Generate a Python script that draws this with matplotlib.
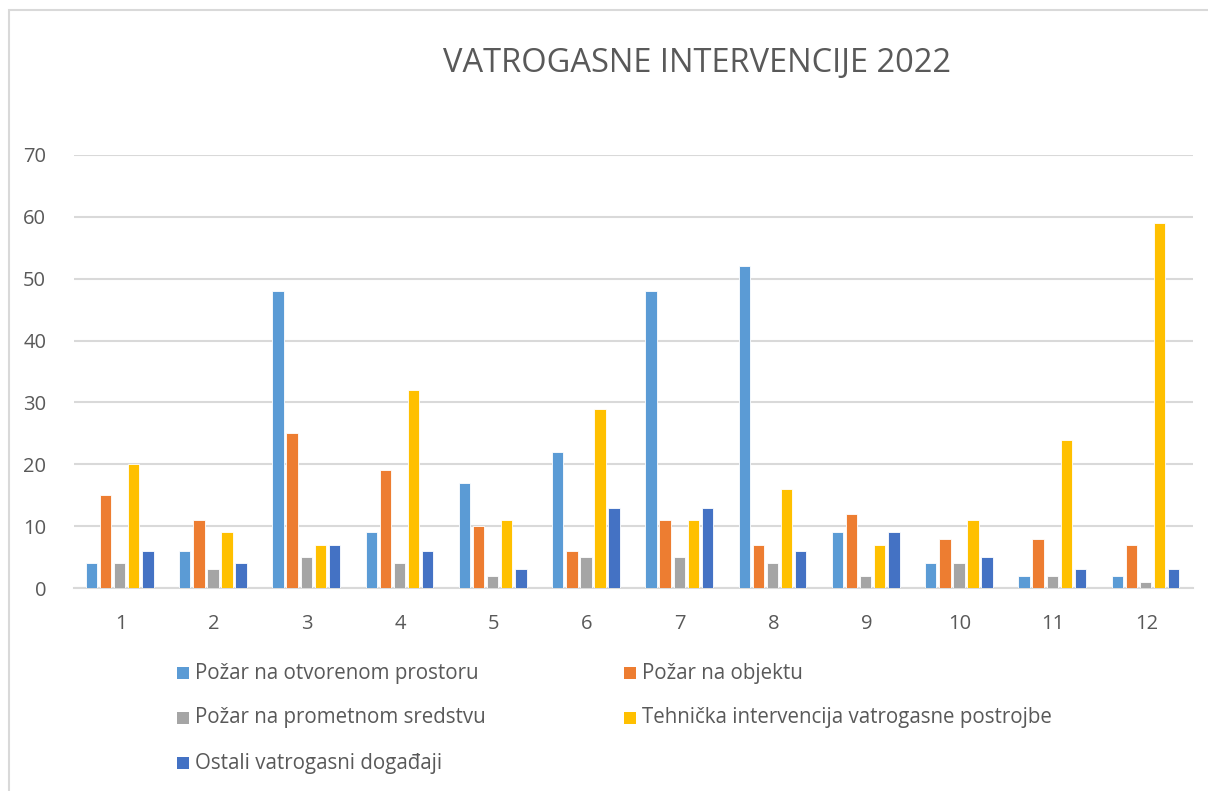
import matplotlib
matplotlib.use("Agg")
import matplotlib.pyplot as plt
from matplotlib.patches import Rectangle
import numpy as np

months = ["1", "2", "3", "4", "5", "6", "7", "8", "9", "10", "11", "12"]
series_names = [
    "Požar na otvorenom prostoru",
    "Požar na objektu",
    "Požar na prometnom sredstvu",
    "Tehnička intervencija vatrogasne postrojbe",
    "Ostali vatrogasni događaji",
]
otvoreni = [4, 6, 48, 9, 17, 22, 48, 52, 9, 4, 2, 2]
objekt = [15, 11, 25, 19, 10, 6, 11, 7, 12, 8, 8, 7]
prometno = [4, 3, 5, 4, 2, 5, 5, 4, 2, 4, 2, 1]
tehnicka = [20, 9, 7, 32, 11, 29, 11, 16, 7, 11, 24, 59]
ostali = [6, 4, 7, 6, 3, 13, 13, 6, 9, 5, 3, 3]
y_ticks = [0, 10, 20, 30, 40, 50, 60, 70]

values = [otvoreni, objekt, prometno, tehnicka, ostali]
colors = ["#5B9BD5", "#ED7D31", "#A5A5A5", "#FFC000", "#4472C4"]

W, H = 1208, 791
fig = plt.figure(figsize=(W / 100, H / 100), dpi=100)
fig.patch.set_facecolor("white")

# outer border (only left and top edges visible in the image)
fig.patches.append(Rectangle((9 / W, -0.05), (1230 - 9) / W, 1.05 - 10 / H,
                             transform=fig.transFigure, fill=False,
                             edgecolor="#D9D9D9", linewidth=1.5))

left, right, top, bottom = 74, 1193, 155, 588
ax = fig.add_axes([left / W, 1 - bottom / H, (right - left) / W, (bottom - top) / H])

x = np.arange(len(months))
pitch = 0.151
bw = 0.122
for i, (vals, c) in enumerate(zip(values, colors)):
    ax.bar(x + (i - 2) * pitch - 0.01, vals, width=bw, color=c, edgecolor="white",
           linewidth=0.6, zorder=3)

ax.set_xlim(-0.5, len(months) - 0.5)
ax.set_ylim(0, 70)
ax.set_yticks(y_ticks)
ax.set_xticks(x)
ax.set_xticklabels(months)
ax.yaxis.grid(True, color="#D9D9D9", linewidth=1.5, zorder=0)
ax.set_axisbelow(True)
for s in ["top", "right", "left"]:
    ax.spines[s].set_visible(False)
ax.spines["bottom"].set_color("#D9D9D9")
ax.spines["bottom"].set_linewidth(1.5)
ax.tick_params(axis="both", length=0, labelsize=14.5, colors="#595959")
ax.tick_params(axis="y", pad=20)
ax.tick_params(axis="x", pad=19)
for lbl in ax.get_xticklabels() + ax.get_yticklabels():
    lbl.set_fontfamily("Open Sans")

fig.text(697 / W, 1 - 64 / H, "VATROGASNE INTERVENCIJE 2022", ha="center", va="center",
         fontsize=23.5, color="#595959", fontfamily="Open Sans")

# legend
col_x = [177, 624]
row_y = [673, 718, 763]
order = [(0, 0), (0, 1), (1, 0), (1, 1), (2, 0)]
for name, c, (r, cc) in zip(series_names, colors, order):
    xx, yy = col_x[cc], row_y[r]
    fig.patches.append(Rectangle((xx / W, 1 - (yy + 6) / H), 12 / W, 12 / H,
                                 transform=fig.transFigure, facecolor=c, edgecolor="none"))
    fig.text((xx + 18) / W, 1 - yy / H, name, ha="left", va="center",
             fontsize=14.8, color="#595959", fontfamily="Open Sans")

fig.savefig("out.png", dpi=100)
